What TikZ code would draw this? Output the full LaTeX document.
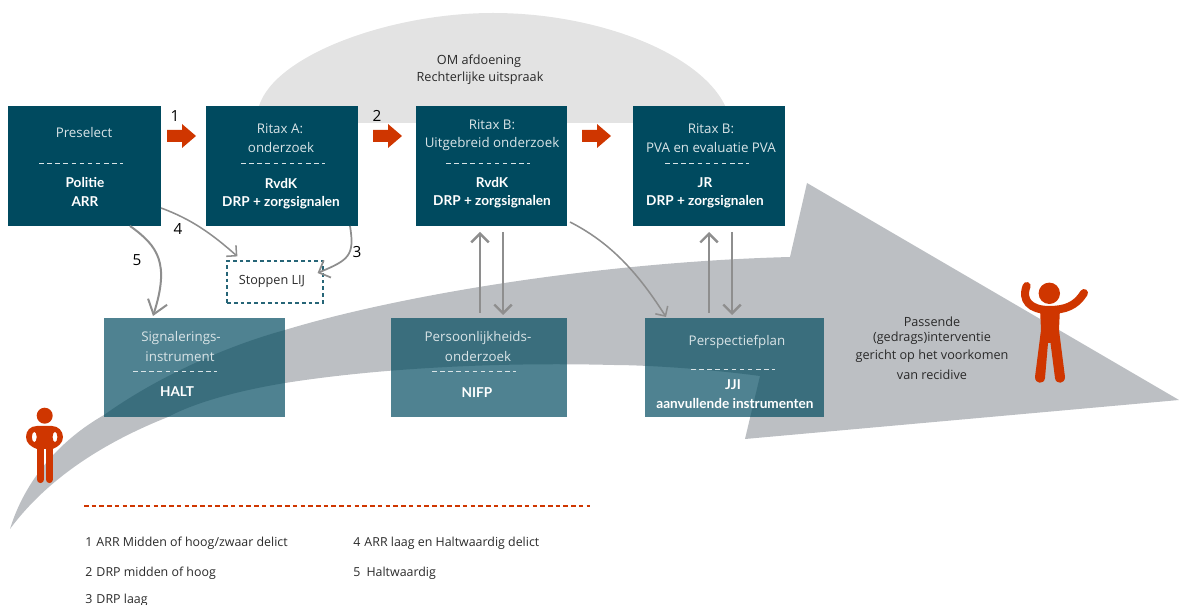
\documentclass[tikz,border=0pt]{standalone}
\usepackage{fontspec}
\setmainfont{Open Sans}
\newfontfamily\boldf{Lato}[UprightFont=* Bold]
\usetikzlibrary{arrows.meta,calc}
\definecolor{teal}{HTML}{004A5F}
\definecolor{redo}{HTML}{CF3600}
\definecolor{arrowgray}{HTML}{BCBFC3}
\definecolor{domegray}{HTML}{E3E3E3}
\definecolor{linegray}{HTML}{8E8E8E}
\definecolor{inktext}{HTML}{2A2A2A}
\tikzset{
  x=0.75pt,y=-0.75pt,
  dark/.style={fill=teal,draw=none,inner sep=0,outer sep=0},
  light/.style={fill=teal,fill opacity=.69,draw=none,inner sep=0,outer sep=0},
  thin txt/.style={text=white!85!teal,font=\fontsize{10}{12}\selectfont,inner sep=0,yshift=-.5pt},
  bold txt/.style={text=white,font=\fontsize{10.2}{12}\boldf,inner sep=0},
  ink/.style={text=inktext,font=\fontsize{9.5}{11}\selectfont,inner sep=0,yshift=-.5pt},
  num/.style={text=black,font=\fontsize{11.5}{13}\selectfont,inner sep=0},
  leg/.style={text=inktext,font=\fontsize{9.3}{11}\selectfont,inner sep=0,anchor=west,yshift=-1.2pt},
  sep/.style={draw=white!85!teal,line width=.75pt,dash pattern=on 3.4pt off 2.7pt},
  conn/.style={draw=linegray,line width=1.15pt,-{Straight Barb[length=5.5pt,width=11pt,line width=1.15pt]}},
  connmid/.style={draw=linegray,line width=1.3pt,-{Straight Barb[length=7pt,width=14pt,line width=1.3pt]}},
  connbig/.style={draw=linegray,line width=1.5pt,-{Straight Barb[length=10pt,width=15pt,line width=1.5pt]}},
  vert/.style={draw=linegray,line width=1.8pt,-{Straight Barb[length=6.5pt,width=13pt,line width=1.8pt]}},
  redarrow/.style={fill=redo,draw=none},
}
\newcommand{\redarr}[1]{\fill[redarrow] (#1,130) -- ++(15,0) -- ++(0,-6) -- ++(14,12) -- ++(-14,12) -- ++(0,-6) -- ++(-15,0) -- cycle;}
\begin{document}
\begin{tikzpicture}
\useasboundingbox (0,0) rectangle (1179,605);
% dome
\fill[domegray] (259,106) .. controls (275,55) and (390,13) .. (493,13) .. controls (600,13) and (705,55) .. (727,110) -- (727,123) -- (259,123) -- cycle;
% big arrow
\fill[arrowgray] (10,529) .. controls (25,480) and (60,440) .. (104,415)
  .. controls (160,375) and (230,345) .. (285,330)
  .. controls (400,295) and (600,262) .. (790,257)
  -- (807,183) -- (1179,400) -- (745,439) -- (760,376)
  .. controls (700,368) and (640,365) .. (613,365)
  .. controls (500,362) and (380,368) .. (285,383)
  .. controls (230,392) and (190,405) .. (168,417)
  .. controls (110,440) and (50,475) .. (10,529) -- cycle;
% boxes
\node[dark,minimum width=153*.75pt,minimum height=120*.75pt] (pre) at (84.5,166) {};
\node[dark,minimum width=152*.75pt,minimum height=120*.75pt] (ra) at (282,166) {};
\node[dark,minimum width=151*.75pt,minimum height=120*.75pt] (rb) at (491.5,166) {};
\node[dark,minimum width=152*.75pt,minimum height=120*.75pt] (rc) at (709,166) {};
\node[light,minimum width=181*.75pt,minimum height=99*.75pt] (sig) at (194.5,367.5) {};
\node[light,minimum width=176*.75pt,minimum height=99*.75pt] (per) at (479,367.5) {};
\node[light,minimum width=179*.75pt,minimum height=99*.75pt] (pp) at (734.5,367.5) {};
\node[draw=teal!85!white,line width=.9pt,dash pattern=on 2.8pt off 2.3pt,minimum width=96*.75pt,minimum height=42*.75pt,inner sep=0] (stop) at (275,282) {};
% separators
\draw[sep] (39,164) -- (123,164);
\draw[sep] (241,164) -- (325,164);
\draw[sep] (446,164) -- (530,164);
\draw[sep] (665,164) -- (749,164);
\draw[sep] (133,372) -- (217,372);
\draw[sep] (432,372) -- (516,372);
\draw[sep] (691,370) -- (775,370);
% box text
\node[thin txt] (t1) at (84,132) {Preselect};
\node[bold txt] (t2) at (85,183) {Politie};
\node[bold txt] (t3) at (85,202) {ARR};
\node[thin txt] (t4) at (280,128) {Ritax A:};
\node[thin txt] (t5) at (281,147) {onderzoek};
\node[bold txt] (t6) at (281,184) {RvdK};
\node[bold txt] (t7) at (281,203) {DRP + zorgsignalen};
\node[thin txt] (t8) at (492,124) {Ritax B:};
\node[thin txt] (t9) at (492,143) {Uitgebreid onderzoek};
\node[bold txt] (t10) at (492,183) {RvdK};
\node[bold txt] (t11) at (492,202) {DRP + zorgsignalen};
\node[thin txt] (t12) at (711,128) {Ritax B:};
\node[thin txt] (t13) at (711,147) {PVA en evaluatie PVA};
\node[bold txt] (t14) at (705,183) {JR};
\node[bold txt] (t15) at (705,202) {DRP + zorgsignalen};
\node[thin txt] (t16) at (181,337) {Signalerings-};
\node[thin txt] (t17) at (180,356) {instrument};
\node[bold txt] (t18) at (177,392) {HALT};
\node[thin txt] (t19) at (478,337) {Persoonlijkheids-};
\node[thin txt] (t20) at (478,356) {onderzoek};
\node[bold txt] (t21) at (477,393) {NIFP};
\node[thin txt] (t22) at (737,341) {Perspectiefplan};
\node[bold txt] (t23) at (733,385) {JJI};
\node[bold txt] (t24) at (735,404) {aanvullende instrumenten};
\node[ink] (t25) at (272,281) {Stoppen LIJ};
\node[ink] (t26) at (479,61) {OM afdoening};
\node[ink] (t27) at (480,78) {Rechterlijke uitspraak};
\node[ink] (t28) at (932,321) {Passende};
\node[ink] (t29) at (932,338) {(gedrags)interventie};
\node[ink] (t30) at (932,356) {gericht op het voorkomen};
\node[ink] (t31) at (932,374) {van recidive};
% red arrows
\redarr{167}\redarr{373}\redarr{582}
% numbers
\node[num] (n1) at (175,116) {1};
\node[num] (n2) at (377,116) {2};
\node[num] (n3) at (357,252) {3};
\node[num] (n4) at (178,229) {4};
\node[num] (n5) at (137,260) {5};
% connectors
\draw[conn] ($(pre.south east)+(0,-18)$) .. controls ($(pre.south east)+(30,-7)$) and ($(stop.north west)+(-15,-27)$) .. ($(stop.north west)+(11,-4)$);
\draw[connmid] ($(ra.south east)+(-8,0)$) .. controls ($(ra.south east)+(-3,30)$) and ($(stop.east)+(25,-22)$) .. ($(stop.east)+(-6,-9)$);
\draw[connbig] ($(pre.south west)+(122,0)$) .. controls ($(pre.south west)+(150,20)$) and ($(sig.north west)+(66,-55)$) .. ($(sig.north west)+(49,-2)$);
\draw[conn] ($(rb.south east)+(3,-4)$) .. controls ($(rb.south east)+(40,15)$) and ($(pp.north west)+(-10,-50)$) .. ($(pp.north west)+(21,-1)$);
\draw[vert] ($(per.north west)+(89,-5)$) -- ($(rb.south west)+(64,6)$);
\draw[vert] ($(rb.south west)+(87,6)$) -- ($(per.north west)+(112,-3)$);
\draw[vert] ($(pp.north west)+(64,-5)$) -- ($(rc.south west)+(76,6)$);
\draw[vert] ($(rc.south west)+(99,6)$) -- ($(pp.north west)+(87,-3)$);
% left person
\begin{scope}[redo]
\fill (44.7,415.7) circle (8);
\fill[even odd rule] (37,426) .. controls (30,426) and (26,431) .. (26,437) .. controls (26,443) and (31,447) .. (37,449) -- (52.5,449) .. controls (58,447) and (63,443) .. (63,437) .. controls (63,431) and (58,426) .. (52,426) -- cycle
  (34.3,437) ellipse (2.4 and 5.2) (55,437) ellipse (2.4 and 5.2);
\draw[line width=5.4pt,line cap=round] (40.3,449) -- (40.3,479.5);
\draw[line width=5.4pt,line cap=round] (49.2,449) -- (49.2,479.5);
\end{scope}
% right person
\begin{scope}[redo]
\fill (1049.3,293.3) circle (10.7);
\draw[line width=6pt,line cap=round] (1026.7,286) .. controls (1021,300) and (1030,310) .. (1049,310) .. controls (1065,310) and (1076,306) .. (1084,293);
\fill[line join=round] (1040,308) -- (1060,308) -- (1059,330) -- (1065,377) .. controls (1065,384) and (1056,385) .. (1055,378) -- (1050.5,343) -- (1048,343) -- (1045,378) .. controls (1044,385) and (1035,384) .. (1035,377) -- (1041,330) -- cycle;
\end{scope}
% footer
\draw[redo,line width=1.2pt,dash pattern=on 3.4pt off 2.4pt] (84,506) -- (590,506);
\node[leg] (l1) at (85,542) {1\,\,ARR Midden of hoog/zwaar delict};
\node[leg] (l2) at (85,572) {2\,\,DRP midden of hoog};
\node[leg] (l3) at (85,599) {3\,\,DRP laag};
\node[leg] (l4) at (353,542) {4\,\,ARR laag en Haltwaardig delict};
\node[leg] (l5) at (353,572) {5\,\,\,Haltwaardig};
\end{tikzpicture}
\end{document}
